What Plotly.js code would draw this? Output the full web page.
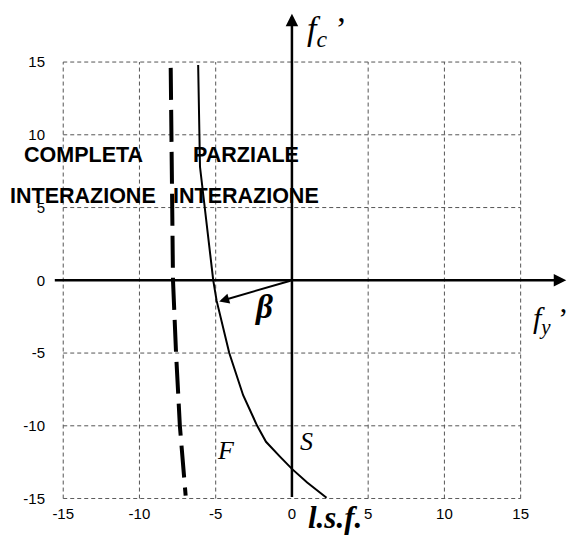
<!DOCTYPE html>
<html>
<head>
<meta charset="utf-8">
<script src="https://cdn.plot.ly/plotly-3.0.1.min.js"></script>
<style>
html,body{margin:0;padding:0;background:#fff;}
#chart{width:571px;height:536px;}
</style>
</head>
<body>
<div id="chart"></div>
<script>
// ---- data ----
const tickVals = [-15, -10, -5, 0, 5, 10, 15];
const tickText = ['-15', '-10', '-5', '0', '5', '10', '15'];
const gridVals = [-15, -10, -5, 5, 10, 15];
const xRange = [-15.67, 18.04];
const yRange = [-15.03, 18.37];

// complete-interaction boundary (dashed)
const completaX = [-7.95, -7.88, -7.8, -7.6, -7.35, -6.97];
const completaY = [14.6, 7, 0, -5, -10, -14.8];

// partial-interaction limit state surface (solid)
const parzialeX = [-6.15, -6.03, -5.16, -4.94, -4.11, -3.2, -2.28, -1.7, -0.8, 0, 1.0, 2.27];
const parzialeY = [14.8, 7.8, 0, -1.4, -5, -7.9, -10, -11.1, -12.1, -12.96, -13.9, -14.95];

// beta vector tip (on the l.s.f.)
const betaTip = [-4.77, -1.45];

// ---- traces ----
const traces = [
  {x: completaX, y: completaY, mode: 'lines', type: 'scatter',
   line: {color: '#000', width: 4, dash: '32px,10px'}, hoverinfo: 'skip'},
  {x: parzialeX, y: parzialeY, mode: 'lines', type: 'scatter',
   line: {color: '#000', width: 2}, hoverinfo: 'skip'}
];

const gridLine = {color: '#555', width: 1, dash: '4px,3px'};
const shapes = [];
gridVals.forEach(v => {
  shapes.push({type: 'line', xref: 'x', yref: 'y', x0: v, x1: v, y0: -15, y1: 15, line: gridLine, layer: 'below'});
  shapes.push({type: 'line', xref: 'x', yref: 'y', y0: v, y1: v, x0: -15, x1: 15, line: gridLine, layer: 'below'});
});

const serif = 'Liberation Serif, Times New Roman, serif';
const sans = 'Liberation Sans, Arial, sans-serif';

const annotations = [
  // x axis arrow
  {x: xRange[1] - 0.05, y: 0, ax: xRange[0] + 0.02, ay: 0, xref: 'x', yref: 'y', axref: 'x', ayref: 'y',
   text: '', showarrow: true, arrowhead: 2, arrowsize: 1, arrowwidth: 2.5, arrowcolor: '#000'},
  // y axis arrow
  {x: 0, y: yRange[1] - 0.05, ax: 0, ay: -15, xref: 'x', yref: 'y', axref: 'x', ayref: 'y',
   text: '', showarrow: true, arrowhead: 2, arrowsize: 1, arrowwidth: 2.5, arrowcolor: '#000'},
  // beta vector
  {x: betaTip[0], y: betaTip[1], ax: 0, ay: 0, xref: 'x', yref: 'y', axref: 'x', ayref: 'y',
   text: '', showarrow: true, arrowhead: 2, arrowsize: 1, arrowwidth: 2, arrowcolor: '#000'},
  // labels
  {x: -13.7, y: 8.6, xref: 'x', yref: 'y', text: '<b>COMPLETA</b>', showarrow: false,
   font: {family: sans, size: 21.5, color: '#000'}},
  {x: -13.7, y: 5.8, xref: 'x', yref: 'y', text: '<b>INTERAZIONE</b>', showarrow: false,
   font: {family: sans, size: 21.5, color: '#000'}},
  {x: -2.98, y: 8.6, xref: 'x', yref: 'y', text: '<b>PARZIALE</b>', showarrow: false,
   font: {family: sans, size: 21.5, color: '#000'}},
  {x: -2.98, y: 5.8, xref: 'x', yref: 'y', text: '<b>INTERAZIONE</b>', showarrow: false,
   font: {family: sans, size: 21.5, color: '#000'}},
  {x: 0.85, y: 17.1, xref: 'x', yref: 'y', xanchor: 'left', text: '<i>f<sub>c</sub></i> ’', showarrow: false,
   font: {family: serif, size: 34, color: '#000'}},
  {x: 15.7, y: -2.7, xref: 'x', yref: 'y', xanchor: 'left', text: '<i>f<sub>y</sub></i> ’', showarrow: false,
   font: {family: serif, size: 30, color: '#000'}},
  {x: -1.84, y: -1.85, xref: 'x', yref: 'y', text: '<b><i>β</i></b>', showarrow: false,
   font: {family: serif, size: 33, color: '#000'}},
  {x: -4.3, y: -11.73, xref: 'x', yref: 'y', text: '<i>F</i>', showarrow: false,
   font: {family: serif, size: 26, color: '#000'}},
  {x: 0.95, y: -11.05, xref: 'x', yref: 'y', text: '<i>S</i>', showarrow: false,
   font: {family: serif, size: 26, color: '#000'}},
  {x: 2.82, y: -0.078, xref: 'x', yref: 'paper', text: '<b><i>l.s.f.</i></b>', showarrow: false,
   font: {family: serif, size: 31, color: '#000'}}
];

const layout = {
  width: 571, height: 536,
  margin: {l: 53, r: 4, t: 13, b: 37, pad: 0},
  paper_bgcolor: '#fff', plot_bgcolor: '#fff',
  showlegend: false,
  xaxis: {range: xRange, tickvals: tickVals, ticktext: tickText, showgrid: false, zeroline: false,
          showline: false, ticks: '', ticklabelstandoff: 4,
          tickfont: {family: sans, size: 15, color: '#000'}, fixedrange: true},
  yaxis: {range: yRange, tickvals: tickVals, ticktext: tickText, showgrid: false, zeroline: false,
          showline: false, ticks: '', ticklabelstandoff: 7,
          tickfont: {family: sans, size: 15, color: '#000'}, fixedrange: true},
  shapes: shapes,
  annotations: annotations
};

Plotly.newPlot('chart', traces, layout, {displayModeBar: false, staticPlot: true});
</script>
</body>
</html>
